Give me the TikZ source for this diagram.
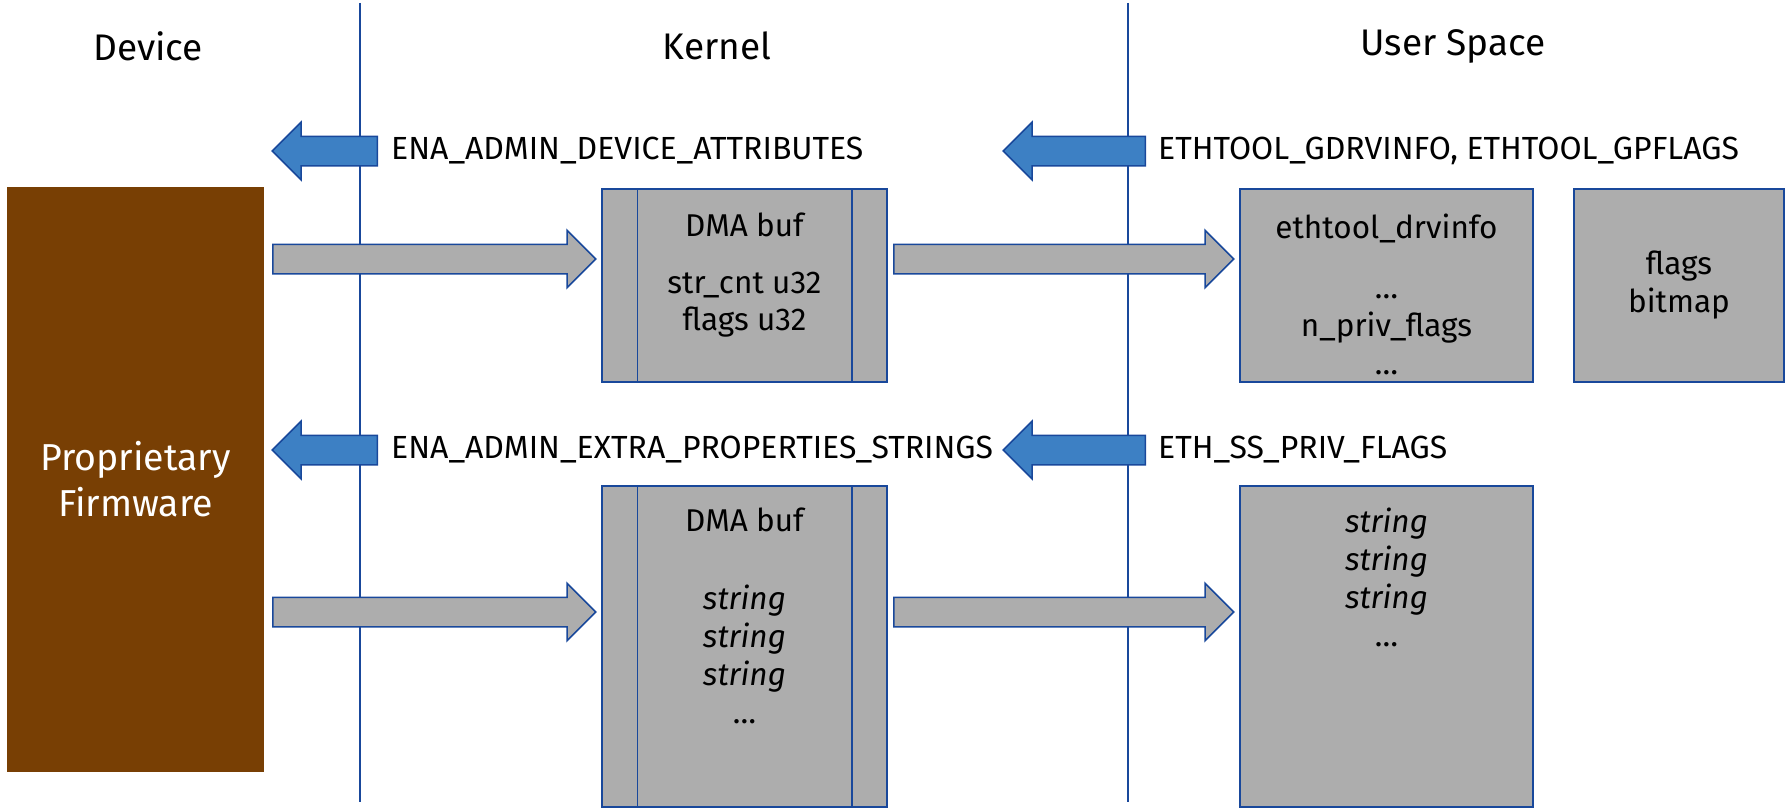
\documentclass[tikz,border=0pt]{standalone}
\usepackage{fontspec}
\setmainfont{Fira Sans}
\usepackage{tikz}
\usetikzlibrary{positioning}
\usetikzlibrary{shapes.arrows}
\definecolor{fwbrown}{HTML}{783F04}
\definecolor{cmdblue}{HTML}{3D80C4}
\definecolor{edgeblue}{RGB}{25,72,155}
\definecolor{bufgray}{HTML}{ADADAD}
\tikzstyle{header} = [font=\fontsize{37}{44}\selectfont, inner sep=0pt]
\tikzstyle{cmd} = [font=\fontsize{32}{38}\selectfont, anchor=west, inner sep=0pt]
\tikzstyle{boxtext} = [font=\fontsize{31.5}{38}\selectfont, align=center, anchor=north, inner sep=0pt]
\tikzstyle{buf} = [rectangle, draw=edgeblue, line width=1.5pt, fill=bufgray, inner sep=0pt]
\tikzstyle{req} = [single arrow, shape border rotate=180, anchor=tail, draw=edgeblue, line width=1.5pt, fill=cmdblue, text height=14pt, text depth=14pt, single arrow head extend=14pt, single arrow head indent=0pt, inner sep=0pt]
\tikzstyle{resp} = [single arrow, anchor=tail, draw=edgeblue, line width=1.5pt, fill=bufgray, text height=14pt, text depth=14pt, single arrow head extend=14pt, single arrow head indent=0pt, inner sep=0pt]
\tikzstyle{border} = [edgeblue, line width=2pt]

\begin{document}
\begin{tikzpicture}[x=1pt, y=-1pt]
\useasboundingbox (0,0) rectangle (1787,808);

% domain borders
\coordinate (kt) at (360,3);
\coordinate (kb) at (360,802);
\coordinate (ut) at (1128,3);
\coordinate (ub) at (1128,802);
\draw[border] (kt) -- (kb);
\draw[border] (ut) -- (ub);

\node (device) [header] at (148,46) {Device};
\node (kernel) [header] at (717,46) {Kernel};
\node (user) [header] at (1453,46) {User Space};

\node (fw) [rectangle, fill=fwbrown, minimum width=257pt, minimum height=585pt, text=white, align=center, font=\fontsize{37.5}{46}\selectfont] at (135.5,479.5) {Proprietary\\ Firmware};

% requests
\node (req1) [req, minimum height=105pt] at (378,151) {};
\node (req2) [req, minimum height=142pt] at (1146,151) {};
\node (req3) [req, minimum height=105pt] at (378,450) {};
\node (req4) [req, minimum height=142pt] at (1146,450) {};
\node (cmd1) [cmd, right=13pt of req1.tail] {ENA\_ADMIN\_DEVICE\_ATTRIBUTES};
\node (cmd2) [cmd, right=12pt of req2.tail] {ETHTOOL\_GDRVINFO, ETHTOOL\_GPFLAGS};
\node (cmd3) [cmd, right=13pt of req3.tail] {ENA\_ADMIN\_EXTRA\_PROPERTIES\_STRINGS};
\node (cmd4) [cmd, right=12pt of req4.tail] {ETH\_SS\_PRIV\_FLAGS};

% buffers
\node (dma1) [buf, minimum width=285pt, minimum height=193pt] at (744.5,285.5) {};
\node (dma2) [buf, minimum width=285pt, minimum height=321pt] at (744.5,646.5) {};
\node (drvinfo) [buf, minimum width=293pt, minimum height=193pt] at (1386.5,285.5) {};
\node (bitmap) [buf, minimum width=210pt, minimum height=193pt] at (1679,285.5) {};
\node (strset) [buf, minimum width=293pt, minimum height=321pt] at (1386.5,646.5) {};

\foreach \b in {dma1, dma2} {
    \draw[border, line width=1.5pt] ([xshift=36pt]\b.north west) -- ([xshift=36pt]\b.south west);
    \draw[border, line width=1.5pt] ([xshift=-36pt]\b.north east) -- ([xshift=-36pt]\b.south east);
}

\node (dma1text) [boxtext, below=24pt of dma1.north] {DMA buf\\[19pt] str\_cnt u32\\[-1pt] flags u32};
\node (dma2text) [boxtext, below=22pt of dma2.north] {DMA buf\\[40pt] \textit{string}\\ \textit{string}\\ \textit{string}\\ \dots};
\node (drvtext) [boxtext, below=25pt of drvinfo.north] {ethtool\_drvinfo\\[22pt] \dots\\ n\_priv\_flags\\ \dots};
\node (bittext) [boxtext, anchor=center] at (bitmap.center) {flags\\ bitmap};
\node (strset text) [boxtext, below=22pt of strset.north] {\textit{string}\\ \textit{string}\\ \textit{string}\\ \dots};

% responses
\node (resp1) [resp, minimum height=323pt] at (272,259) {};
\node (resp2) [resp, minimum height=340pt] at (893,259) {};
\node (resp3) [resp, minimum height=323pt] at (272,612) {};
\node (resp4) [resp, minimum height=340pt] at (893,612) {};

\end{tikzpicture}
\end{document}
